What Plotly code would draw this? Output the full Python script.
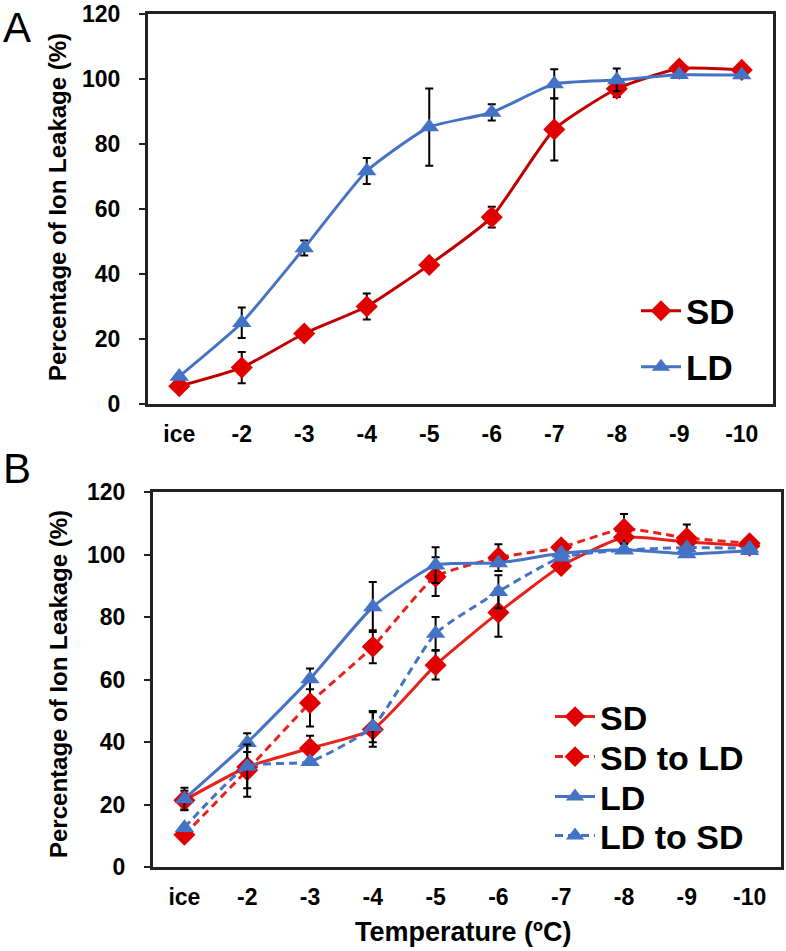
import plotly.graph_objects as go

W, H = 786, 951
OFF = 0  # page body margin removed via post_script

categories = ["ice", "-2", "-3", "-4", "-5", "-6", "-7", "-8", "-9", "-10"]

# Panel A
a_sd = [5.5, 11.2, 21.7, 30.0, 42.8, 57.5, 84.5, 97.0, 103.2, 102.8]
a_sd_err = [None, 4.8, None, 4.0, None, 3.2, 9.6, 2.5, None, None]
a_ld = [8.5, 25.0, 48.0, 71.7, 85.2, 89.7, 98.5, 99.7, 101.3, 101.2]
a_ld_err = [None, 4.7, 2.3, 4.0, 11.9, 2.5, 4.5, 3.5, None, None]

# Panel B
b_sd = [21.4, 32.0, 38.0, 44.0, 64.6, 81.4, 96.3, 105.5, 104.0, 102.8]
b_sd_err = [3.0, None, 4.0, 5.5, 4.6, 7.7, None, None, None, None]
b_sdld = [10.3, 31.0, 52.5, 70.5, 92.9, 99.0, 102.3, 108.2, 105.3, 103.6]
b_sdld_err = [None, 8.5, 7.5, 5.3, 6.2, 4.3, None, 4.8, 4.3, None]
b_ld = [21.8, 39.8, 60.2, 83.2, 96.6, 97.3, 100.4, 101.5, 100.2, 101.2]
b_ld_err = [3.6, 3.0, 3.3, 8.0, 5.7, None, None, None, None, None]
b_ldsd = [12.6, 32.2, 33.7, 44.9, 74.7, 88.1, 99.1, 101.4, 102.2, 102.0]
b_ldsd_err = [None, 7.0, None, 5.0, 5.3, 5.3, None, None, None, None]

y_ticks = [0, 20, 40, 60, 80, 100, 120]

RED_MARK = "#E00000"
RED_DARK = "#C00000"
RED_LINE = "#E8221B"
BLUE = "#4472C4"
FONT = "Liberation Sans"


def px_x(p):
    return (p - OFF) / W


def px_y(p):
    return 1 - (p - OFF) / H


fig = go.Figure()


def add(xa, ya, y, err, name, line_color, mark_color, symbol, dash, legend):
    fig.add_trace(go.Scatter(
        x=categories, y=y, xaxis=xa, yaxis=ya, name=name,
        mode="lines+markers",
        line=dict(color=line_color, width=3, dash=dash, shape="spline", smoothing=0.5),
        marker=dict(color=mark_color, size=17, symbol=symbol),
        error_y=dict(type="data", array=err, visible=True, color="black",
                     thickness=2, width=4),
        legend=legend,
    ))


add("x", "y", a_sd, a_sd_err, "SD", RED_DARK, RED_MARK, "diamond", "solid", "legend")
add("x", "y", a_ld, a_ld_err, "LD", BLUE, BLUE, "triangle-up", "solid", "legend2")

add("x2", "y2", b_sd, b_sd_err, "SD", RED_LINE, RED_MARK, "diamond", "solid", "legend3")
add("x2", "y2", b_sdld, b_sdld_err, "SD to LD", RED_LINE, RED_MARK, "diamond", "8px,5px", "legend4")
add("x2", "y2", b_ld, b_ld_err, "LD", BLUE, BLUE, "triangle-up", "solid", "legend5")
add("x2", "y2", b_ldsd, b_ldsd_err, "LD to SD", BLUE, BLUE, "triangle-up", "8px,5px", "legend6")

tickfont = dict(family=FONT, size=23, color="black", weight="bold")

xcommon = dict(type="category", range=[-0.5, 9.5], showline=True, linecolor="#222",
               linewidth=3, mirror=True, ticks="", showgrid=False, zeroline=False,
               tickfont=tickfont, ticklabelstandoff=7, automargin=False,
               ticklabeloverflow="allow")
ycommon = dict(range=[0, 120], tickvals=y_ticks, showline=True, linecolor="#222",
               linewidth=3, mirror=True, ticks="outside", ticklen=6, tickwidth=2,
               tickcolor="#222", showgrid=False, zeroline=False, tickfont=tickfont,
               ticklabelstandoff=14, automargin=False, ticklabeloverflow="allow")


def leg(xp, yp, size):
    return dict(x=px_x(xp), y=px_y(yp), xanchor="left", yanchor="middle",
                font=dict(family=FONT, size=size, color="black", weight="bold"),
                bgcolor="rgba(0,0,0,0)", itemwidth=40)


fig.update_layout(
    width=W, height=H,
    margin=dict(l=0, r=0, t=0, b=0, autoexpand=False),
    paper_bgcolor="white", plot_bgcolor="white",
    xaxis=dict(domain=[px_x(148), px_x(773)], anchor="y", **xcommon),
    yaxis=dict(domain=[px_y(404), px_y(14)], anchor="x", **ycommon),
    xaxis2=dict(domain=[px_x(153), px_x(781)], anchor="y2", **xcommon),
    yaxis2=dict(domain=[px_y(867), px_y(492)], anchor="x2", **ycommon),
    legend=leg(636, 311, 35),
    legend2=leg(636, 367, 35),
    legend3=leg(550, 717, 34),
    legend4=leg(550, 757, 34),
    legend5=leg(550, 797, 34),
    legend6=leg(550, 836, 34),
    showlegend=True,
)

ann = [
    dict(text="A", x=px_x(1), y=px_y(27), xanchor="left", yanchor="middle",
         font=dict(family=FONT, size=42, color="black")),
    dict(text="B", x=px_x(1), y=px_y(468), xanchor="left", yanchor="middle",
         font=dict(family=FONT, size=42, color="black")),
    dict(text="Percentage of Ion Leakage (%)", x=px_x(58), y=px_y(207), textangle=-90,
         xanchor="center", yanchor="middle",
         font=dict(family=FONT, size=24, color="black", weight="bold")),
    dict(text="Percentage of Ion Leakage (%)", x=px_x(58), y=px_y(684), textangle=-90,
         xanchor="center", yanchor="middle",
         font=dict(family=FONT, size=24, color="black", weight="bold")),
    dict(text="Temperature (ºC)", x=px_x(463), y=px_y(932), xanchor="center",
         yanchor="middle", font=dict(family=FONT, size=27, color="black", weight="bold")),
]
for a in ann:
    a.update(xref="paper", yref="paper", showarrow=False)
fig.update_layout(annotations=ann)

fig.write_html("out.html", config={"displayModeBar": False},
               post_script="document.body.style.margin='0px';")
